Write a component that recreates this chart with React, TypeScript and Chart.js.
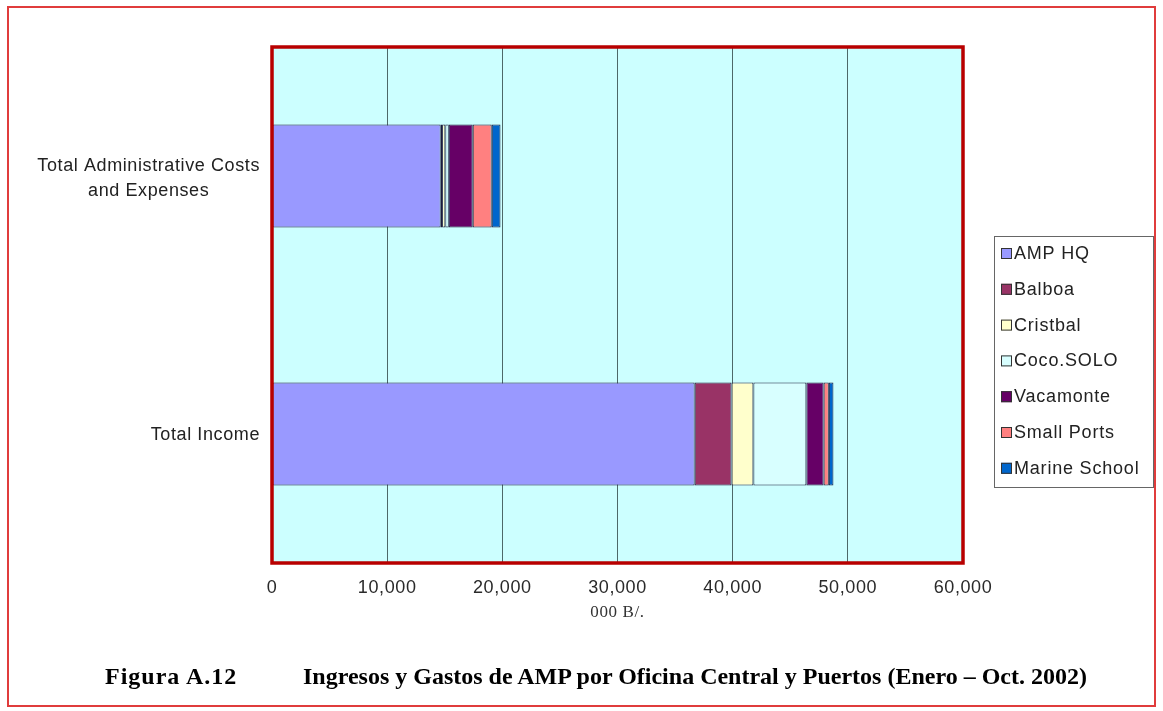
import React, { useEffect, useRef } from "react";
import { Chart, registerables } from "chart.js";

Chart.register(...registerables);

// ---------- data ----------
const categories: string[][] = [
  ["Total Administrative Costs", "and Expenses"],
  ["Total Income"],
];
const seriesNames = [
  "AMP HQ",
  "Balboa",
  "Cristbal",
  "Coco.SOLO",
  "Vacamonte",
  "Small Ports",
  "Marine School",
];
const ampHQ = [14650, 36700];
const balboa = [120, 3200];
const cristbal = [280, 1900];
const cocoSolo = [300, 4600];
const vacamonte = [2080, 1500];
const smallPorts = [1650, 450];
const marineSchool = [760, 400];
const seriesColors = ["#9999FF", "#993366", "#FFFFCC", "#D8FFFF", "#660066", "#FF8080", "#0066CC"];
const xMin = 0;
const xMax = 60000;
const xStep = 10000;
const axisTitle = "000 B/.";
const captionLabel = "Figura A.12";
const captionText = "Ingresos y Gastos de AMP por Oficina Central y Puertos (Enero \u2013 Oct. 2002)";

const seriesValues = [ampHQ, balboa, cristbal, cocoSolo, vacamonte, smallPorts, marineSchool];

const SANS = "'Liberation Sans', Arial, sans-serif";
const SERIF = "'Liberation Serif', 'Times New Roman', serif";

const plotBgPlugin = {
  id: "plotBg",
  beforeDraw(chart: any) {
    const { ctx, chartArea: a } = chart;
    (ctx as any).letterSpacing = "0.6px";
    ctx.save();
    ctx.fillStyle = "#CCFFFF";
    ctx.fillRect(a.left, a.top, a.right - a.left, a.bottom - a.top);
    ctx.restore();
  },
  afterDraw(chart: any) {
    const { ctx, chartArea: a } = chart;
    ctx.save();
    ctx.strokeStyle = "#B80000";
    ctx.lineWidth = 3.5;
    ctx.strokeRect(a.left, a.top, a.right - a.left, a.bottom - a.top);
    ctx.restore();
  },
};

const catLabelPlugin = {
  id: "catLabels",
  afterDraw(chart: any) {
    const { ctx, chartArea: a } = chart;
    const yScale = chart.scales.y;
    const labels = chart.data.labels as string[][];
    ctx.save();
    (ctx as any).letterSpacing = "0.6px";
    ctx.font = `18px ${SANS}`;
    ctx.fillStyle = "#222";
    ctx.textAlign = "center";
    ctx.textBaseline = "middle";
    const lineH = 25;
    labels.forEach((lines, i) => {
      const y = yScale.getPixelForValue(i) + (lines.length > 1 ? 3 : 1);
      const maxW = Math.max(...lines.map((l) => ctx.measureText(l).width));
      const cx = a.left - 12 - maxW / 2;
      lines.forEach((l, j) => {
        ctx.fillText(l, cx, y + (j - (lines.length - 1) / 2) * lineH);
      });
    });
    ctx.restore();
  },
};

const boxLegendPlugin = {
  id: "boxLegend",
  afterDraw(chart: any) {
    const { ctx } = chart;
    const left = 994;
    const top = 236;
    const width = 159;
    const height = 251;
    ctx.save();
    (ctx as any).letterSpacing = "0.8px";
    ctx.strokeStyle = "#666";
    ctx.lineWidth = 1;
    ctx.strokeRect(left + 0.5, top + 0.5, width, height);
    ctx.font = `18px ${SANS}`;
    ctx.textBaseline = "middle";
    ctx.textAlign = "left";
    chart.data.datasets.forEach((ds: any, i: number) => {
      const cy = top + 17 + i * 35.8;
      ctx.fillStyle = ds.backgroundColor;
      ctx.fillRect(left + 7, cy - 5, 11, 11);
      ctx.strokeStyle = "#333";
      ctx.strokeRect(left + 7.5, cy - 4.5, 10, 10);
      ctx.fillStyle = "#222";
      ctx.fillText(ds.label, left + 20, cy + 1);
    });
    ctx.restore();
  },
};

export default function App() {
  const canvasRef = useRef<HTMLCanvasElement | null>(null);

  useEffect(() => {
    if (!canvasRef.current) return;
    const chart = new Chart(canvasRef.current, {
      type: "bar",
      data: {
        labels: categories as any,
        datasets: seriesNames.map((name, i) => ({
          label: name,
          data: seriesValues[i],
          backgroundColor: seriesColors[i],
          borderColor: "#1c1c3a",
          borderWidth: 1,
          borderSkipped: false,
          categoryPercentage: 0.8,
          barPercentage: 0.5,
        })),
      },
      options: {
        indexAxis: "y",
        animation: false,
        responsive: true,
        maintainAspectRatio: false,
        layout: { padding: { top: 47, right: 200, left: 0, bottom: 0 } },
        plugins: {
          legend: { display: false },
          tooltip: { enabled: false },
          title: { display: false },
        },
        scales: {
          x: {
            stacked: true,
            min: xMin,
            max: xMax,
            ticks: {
              stepSize: xStep,
              padding: 14,
              color: "#2a2a2a",
              font: { family: SANS, size: 18 },
              callback: (v: any) => Number(v).toLocaleString("en-US"),
            },
            grid: { color: "#4d6868", lineWidth: 1, drawTicks: false },
            border: { display: false },
            title: {
              display: true,
              text: axisTitle,
              color: "#333",
              font: { family: SERIF, size: 17 },
              padding: { top: 0, bottom: 88 },
            },
            afterFit: (s: any) => {
              s.height = 148;
            },
          },
          y: {
            stacked: true,
            ticks: { display: false },
            grid: { display: false },
            border: { display: false },
            afterFit: (s: any) => {
              s.width = 272;
            },
          },
        },
      },
      plugins: [plotBgPlugin, catLabelPlugin, boxLegendPlugin],
    });
    return () => chart.destroy();
  }, []);

  const captionStyle: React.CSSProperties = {
    position: "absolute",
    top: 663,
    fontFamily: SERIF,
    fontWeight: "bold",
    fontSize: 24,
    lineHeight: "26px",
    color: "#000",
    whiteSpace: "nowrap",
  };

  return (
    <div style={{ position: "absolute", left: 0, top: 0, width: 1163, height: 711, background: "#fff" }}>
      <div
        style={{
          position: "absolute",
          left: 7,
          top: 6,
          width: 1149,
          height: 701,
          border: "2px solid #E03C3C",
          boxSizing: "border-box",
        }}
      />
      <div style={{ position: "absolute", left: 0, top: 0, width: 1163, height: 711 }}>
        <canvas ref={canvasRef} />
      </div>
      <div style={{ ...captionStyle, left: 105, letterSpacing: "1px" }}>{captionLabel}</div>
      <div style={{ ...captionStyle, left: 303 }}>{captionText}</div>
    </div>
  );
}
